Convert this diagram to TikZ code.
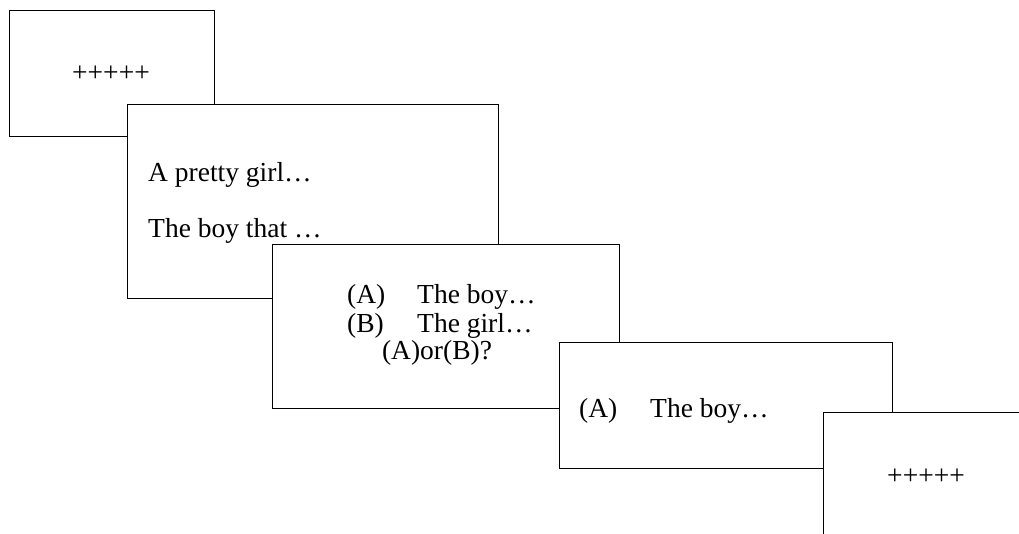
\documentclass[tikz,border=0pt]{standalone}
\usepackage{fontspec}
\setmainfont{Liberation Serif}
\begin{document}
\begin{tikzpicture}[x=1pt,y=-1pt,
  card/.style={draw=black,fill=white,line width=0.9pt},
  txt/.style={inner sep=0pt,font=\fontsize{27.5}{33}\selectfont}]
\useasboundingbox (0,0) rectangle (1019,534);
\clip (0,0) rectangle (1019,534);
% card 1
\draw[card] (9,10) rectangle (214,136);
\node[txt,anchor=base] (t1) at (111,82) {+++++};
% card 2
\draw[card] (127,104) rectangle (498,298);
\node[txt,anchor=base west] (t2a) at (148,182) {A pretty girl…};
\node[txt,anchor=base west] (t2b) at (148,238) {The boy that …};
% card 3
\draw[card] (272,244) rectangle (619,408);
\node[txt,anchor=base west] (t3a) at (347,304) {(A)};
\node[txt,anchor=base west] (t3b) at (417,304) {The boy…};
\node[txt,anchor=base west] (t3c) at (347,332) {(B)};
\node[txt,anchor=base west] (t3d) at (417,332) {The girl…};
\node[txt,anchor=base] (t3e) at (437,359) {(A)or(B)?};
% card 4
\draw[card] (559,342) rectangle (892,468);
\node[txt,anchor=base west] (t4a) at (579,417) {(A)};
\node[txt,anchor=base west] (t4b) at (650,417) {The boy…};
% card 5 (runs off the page)
\fill[white] (823,412) rectangle (1030,545);
\draw[card,fill=none] (1030,412) -- (823,412) -- (823,545);
\node[txt,anchor=base] (t5) at (926,484) {+++++};
\end{tikzpicture}
\end{document}
